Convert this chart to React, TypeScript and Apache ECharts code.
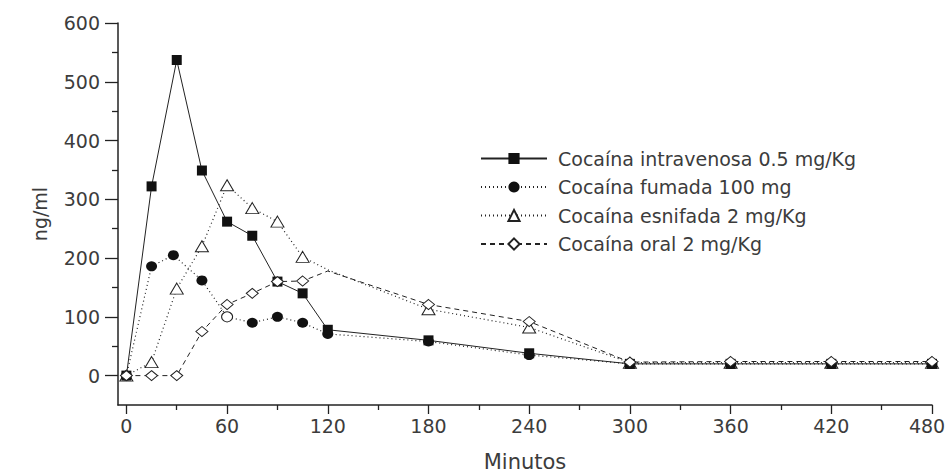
import React, { useEffect, useRef } from "react";
import * as echarts from "echarts";

const times = [0, 15, 30, 45, 60, 75, 90, 105, 120, 180, 240, 300, 360, 420, 480];
const smokedTimes = [0, 15, 28, 45, 60, 75, 90, 105, 120, 180, 240, 300, 360, 420, 480];
const intravenosa = [0, 322, 537, 349, 262, 238, 160, 140, 78, 60, 38, 20, 20, 20, 20];
const fumada = [0, 186, 205, 162, 100, 90, 100, 90, 71, 58, 35, 20, 20, 20, 20];
const esnifada = [0, 23, 148, 220, 324, 285, 262, 202, 180, 113, 82, 22, 22, 22, 22];
const oral = [0, 0, 0, 75, 121, 140, 160, 161, 178, 121, 92, 23, 24, 24, 24];

const seriesNames = [
  "Cocaína intravenosa 0.5 mg/Kg",
  "Cocaína fumada 100 mg",
  "Cocaína esnifada 2 mg/Kg",
  "Cocaína oral 2 mg/Kg",
];

const xMajorTicks = [0, 60, 120, 180, 240, 300, 360, 420, 480];
const xMinorTicks = [30, 90, 150, 210, 270, 330, 390, 450];
const yLabels = [0, 100, 200, 300, 400, 500, 600];
const yMinorTicks = [50, 150, 250, 350, 450, 550];

const INK = "#222";
const TEXT = "#3c3c3c";
const FONT = "DejaVu Sans, Liberation Sans, Arial, sans-serif";

export default function App() {
  const ref = useRef<HTMLDivElement>(null);
  useEffect(() => {
    if (!ref.current) return;
    const chart = echarts.init(ref.current, null, { renderer: "svg" });
    const pairs = (ts: number[], vs: number[]) => ts.map((t, i) => [t, vs[i]]);

    const fumadaData: any[] = pairs(smokedTimes, fumada).map((p, i) =>
      smokedTimes[i] === 60
        ? { value: p, itemStyle: { color: "#fff", borderColor: INK, borderWidth: 1 } }
        : p
    );
    const esnifadaData: any[] = pairs(times, esnifada).map((p, i) =>
      times[i] === 120 ? { value: p, symbol: "none" } : p
    );
    const oralData: any[] = pairs(times, oral).map((p, i) =>
      times[i] === 120 ? { value: p, symbol: "none" } : p
    );
    const lastX = xMajorTicks[xMajorTicks.length - 1];

    chart.setOption({
      animation: false,
      backgroundColor: "#fff",
      grid: { left: 118, right: 16, top: 23, bottom: 68, containLabel: false, outerBoundsMode: "none" },
      legend: {
        orient: "vertical",
        left: 475,
        top: 144,
        itemWidth: 66,
        itemHeight: 14,
        itemGap: 9.5,
        textStyle: { fontFamily: FONT, fontSize: 19, color: TEXT, padding: [0, 0, 0, 6] },
        data: seriesNames,
      },
      xAxis: [
        {
          type: "value",
          min: -5,
          max: 480,
          name: "Minutos",
          nameLocation: "middle",
          nameGap: 46,
          nameTextStyle: { fontFamily: FONT, fontSize: 21, color: TEXT },
          axisLine: { show: true, onZero: false, lineStyle: { color: INK, width: 1.5 } },
          axisTick: { show: true, length: 9, customValues: xMajorTicks, lineStyle: { color: INK, width: 1.3 } },
          axisLabel: {
            customValues: xMajorTicks,
            fontFamily: FONT,
            fontSize: 19,
            color: TEXT,
            margin: 11,
            formatter: (v: number) => (v === lastX ? `{r|${v}}` : String(v)),
            rich: {
              r: { fontFamily: FONT, fontSize: 19, color: TEXT, padding: [0, 10, 0, 0] },
            },
          },
          splitLine: { show: false },
        },
        {
          type: "value",
          min: -5,
          max: 480,
          position: "bottom",
          axisLine: { show: false, onZero: false },
          axisTick: { show: true, length: 5, customValues: xMinorTicks, lineStyle: { color: INK, width: 1.3 } },
          axisLabel: { show: false },
          splitLine: { show: false },
        },
      ],
      yAxis: [
        {
          type: "value",
          min: -50,
          max: 600,
          name: "ng/ml",
          nameLocation: "middle",
          nameGap: 69,
          nameTextStyle: { fontFamily: FONT, fontSize: 19, color: TEXT },
          axisLine: { show: true, onZero: false, lineStyle: { color: INK, width: 1.5 } },
          axisTick: { show: true, length: 13, customValues: yLabels, lineStyle: { color: INK, width: 1.3 } },
          axisLabel: {
            customValues: yLabels,
            fontFamily: FONT,
            fontSize: 19,
            color: TEXT,
            margin: 18,
          },
          splitLine: { show: false },
        },
        {
          type: "value",
          min: -50,
          max: 600,
          position: "left",
          axisLine: { show: false, onZero: false },
          axisTick: { show: true, length: 6, customValues: yMinorTicks, lineStyle: { color: INK, width: 1.3 } },
          axisLabel: { show: false },
          splitLine: { show: false },
        },
      ],
      series: [
        {
          name: seriesNames[0],
          type: "line",
          data: pairs(times, intravenosa),
          symbol: "rect",
          symbolSize: 10,
          lineStyle: { color: INK, width: 1, type: "solid" },
          itemStyle: { color: "#111", borderColor: "#111", borderWidth: 0 },
          z: 4,
        },
        {
          name: seriesNames[1],
          type: "line",
          data: fumadaData,
          symbol: "circle",
          symbolSize: [11, 10],
          lineStyle: { color: INK, width: 1.2, type: [1, 3] },
          itemStyle: { color: "#111", borderColor: "#111", borderWidth: 0 },
          z: 3,
        },
        {
          name: seriesNames[2],
          type: "line",
          data: esnifadaData,
          symbol: "triangle",
          symbolSize: [13, 11],
          lineStyle: { color: INK, width: 1.2, type: [1, 3] },
          itemStyle: { color: "#fff", borderColor: INK, borderWidth: 1 },
          z: 2,
        },
        {
          name: seriesNames[3],
          type: "line",
          data: oralData,
          symbol: "diamond",
          symbolSize: [12, 10],
          lineStyle: { color: INK, width: 1, type: [5, 4] },
          itemStyle: { color: "#fff", borderColor: INK, borderWidth: 1 },
          z: 5,
        },
      ],
    });
    return () => chart.dispose();
  }, []);
  return (
    <div
      ref={ref}
      style={{ position: "fixed", left: 0, top: 0, width: 948, height: 473 }}
    />
  );
}
